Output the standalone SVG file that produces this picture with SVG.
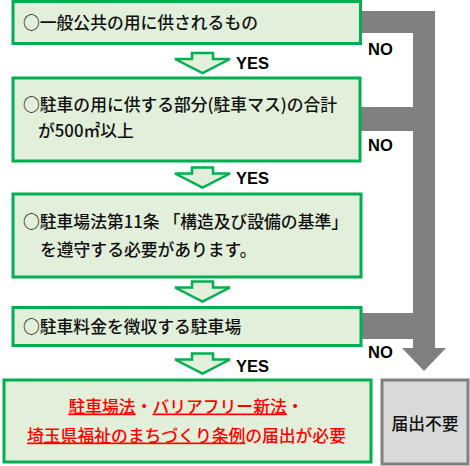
<svg xmlns="http://www.w3.org/2000/svg" width="470" height="466" viewBox="0 0 470 466">
<defs>
<style>
.box{fill:#e2efda;stroke:#00b050;stroke-width:3}
.garrow{fill:#e2efda;stroke:#00b050;stroke-width:2.5;stroke-linejoin:miter}
.jp{font-family:"Noto Sans CJK JP","Noto Sans",sans-serif;font-size:16.8px;font-weight:500;fill:#111}
.red{fill:#ff0000}
.u{text-decoration:underline}
.lbl{font-family:"Liberation Sans",Arial,sans-serif;font-weight:bold;font-size:16.5px;fill:#000}
</style>
<path id="ga" d="M192,0 H213 V6 H230 L202.5,20 L175,6 H192 Z"/>
</defs>
<rect width="470" height="466" fill="#ffffff"/>
<g id="connectors">
<path d="M355,11 H435 V348 H446 L424,371 L402,348 H413 V339 H355 V313 H413 V131 H355 V107 H413 V33 H355 Z" fill="#808080"/>
<use href="#ga" class="garrow" transform="translate(0,53)"/>
<use href="#ga" class="garrow" transform="translate(0,167.5)"/>
<use href="#ga" class="garrow" transform="translate(0,281.5)"/>
<use href="#ga" class="garrow" transform="translate(0,353.5)"/>
<text class="lbl" x="236" y="68.5">YES</text>
<text class="lbl" x="236" y="184">YES</text>
<text class="lbl" x="236" y="371.5">YES</text>
<text class="lbl" x="368" y="55">NO</text>
<text class="lbl" x="368" y="151">NO</text>
<text class="lbl" x="368" y="358">NO</text>
</g>
<g id="node1">
<rect class="box" x="13" y="1.5" width="347.5" height="42"/>
<text class="jp" x="23" y="29">○一般公共の用に供されるもの</text>
</g>
<g id="node2">
<rect class="box" x="13" y="78" width="347" height="83"/>
<text class="jp" x="23" y="111">○駐車の用に供する部分(駐車マス)の合計</text>
<text class="jp" x="38" y="137">が500㎡以上</text>
</g>
<g id="node3">
<rect class="box" x="13" y="194" width="348" height="83"/>
<text class="jp" x="23" y="228">○駐車場法第11条 「構造及び設備の基準」</text>
<text class="jp" x="40" y="256">を遵守する必要があります。</text>
</g>
<g id="node4">
<rect class="box" x="13" y="307.5" width="348" height="38"/>
<text class="jp" x="23" y="333">○駐車料金を徴収する駐車場</text>
</g>
<g id="result">
<rect class="box" x="4" y="380" width="367" height="82"/>
<text class="jp red" x="186" y="412.5" text-anchor="middle"><tspan class="u">駐車場法</tspan>・<tspan class="u">バリアフリー新法</tspan>・</text>
<text class="jp red" x="186.5" y="441.5" text-anchor="middle"><tspan class="u">埼玉県福祉のまちづくり条例</tspan>の届出が必要</text>
</g>
<g id="notrequired">
<rect x="382" y="380" width="86" height="84" fill="#d9d9d9" stroke="#808080" stroke-width="3"/>
<text class="jp" x="425" y="429.5" text-anchor="middle">届出不要</text>
</g>
</svg>
